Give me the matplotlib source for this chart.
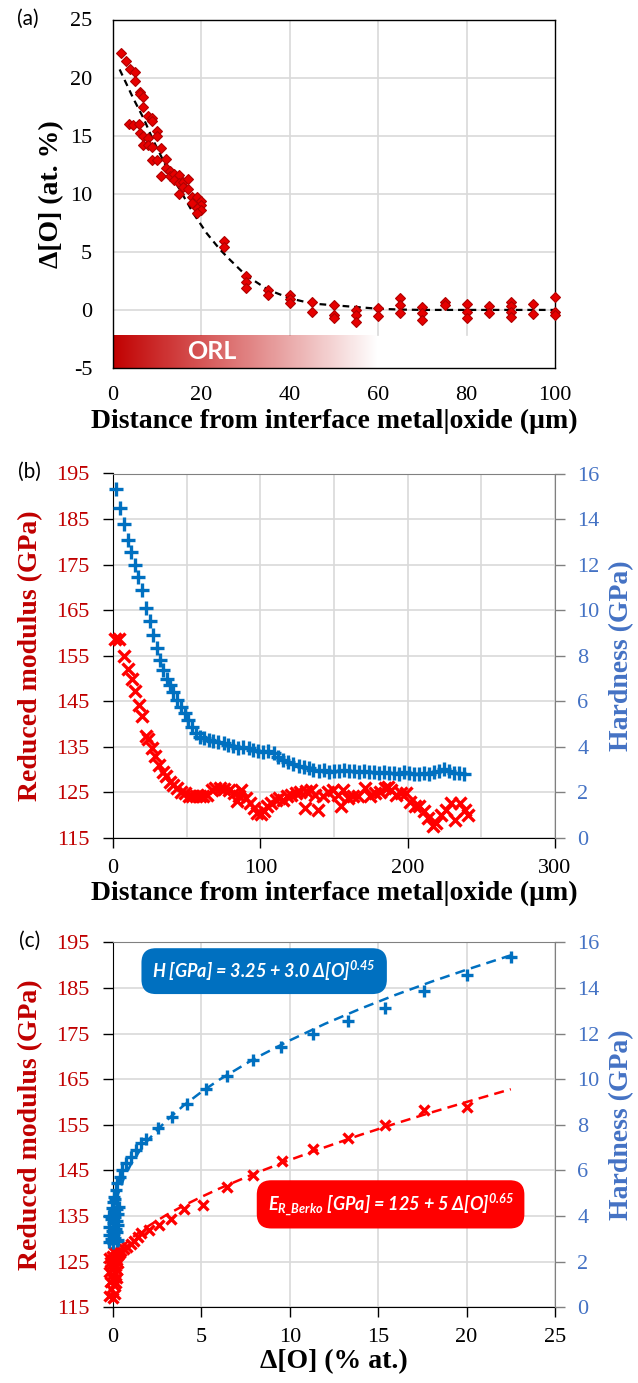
import numpy as np
import matplotlib
matplotlib.use("Agg")
import matplotlib.pyplot as plt

SERIF = 'Liberation Serif'
SANS = 'Lato'
plt.rcParams['font.family'] = [SERIF, 'DejaVu Serif']
plt.rcParams['axes.unicode_minus'] = False
plt.rcParams['mathtext.fontset'] = 'custom'
plt.rcParams['mathtext.rm'] = 'Lato:bold:italic'
plt.rcParams['mathtext.it'] = 'Lato:bold:italic'
plt.rcParams['mathtext.bf'] = 'Lato:bold:italic'

# ---------------- data: panel (a) ----------------
dist_a = [1.9, 2.9, 3.8, 4.9, 4.9, 6.0, 6.0, 6.9, 6.9, 7.9, 8.8, 8.8, 3.7, 4.6, 5.8,
          6.0, 6.9, 7.9, 9.9, 9.9, 6.9, 7.9, 8.8, 10.9, 8.8, 9.9, 11.9, 10.9, 11.9,
          12.9, 12.9, 13.8, 14.9, 13.8, 14.9, 15.9, 17.0, 14.9, 15.9, 17.0, 17.8,
          18.9, 20.0, 20.0, 18.9, 20.0, 17.8, 18.9, 25, 25, 30, 30, 30, 35, 35, 40,
          40, 40, 45, 45, 50, 50, 50, 55, 55, 55, 60, 60, 65, 65, 65, 70, 70, 70,
          75, 75, 80, 80, 80, 85, 85, 90, 90, 90, 90, 95, 95, 100, 100, 100]
dO_a = [22.1, 21.4, 20.7, 20.5, 19.7, 18.8, 18.6, 18.3, 17.5, 16.7, 16.5, 16.3, 16.0,
        15.9, 16.0, 15.2, 15.0, 14.8, 15.4, 15.0, 14.2, 14.2, 14.0, 13.9, 12.9, 12.9,
        13.0, 11.5, 12.2, 12.0, 11.5, 11.7, 11.6, 11.2, 10.9, 11.0, 11.3, 10.0, 10.6,
        10.4, 9.7, 9.7, 9.4, 9.0, 8.8, 8.6, 9.2, 8.3, 5.9, 5.4, 2.9, 2.4, 1.9, 1.7,
        1.3, 1.3, 0.9, 0.6, 0.7, -0.2, 0.4, -0.4, -0.7, 0.0, -0.4, -1.0, 0.2, -0.5,
        1.0, 0.4, -0.25, 0.25, -0.3, -0.9, 0.7, 0.4, 0.5, -0.15, -0.7, 0.3, -0.3,
        0.7, 0.35, -0.15, -0.65, 0.55, -0.35, 1.1, -0.15, -0.45]
fit_dist_a = [1.5, 4.6, 6.9, 9.1, 12.1, 15.2, 18.2, 21.2, 24.2, 26.5, 30, 35, 40, 45,
              50, 55, 60, 65, 70, 80, 90, 100]
fit_dO_a = [20.7, 18.2, 16.5, 14.6, 12.3, 10.3, 8.3, 6.6, 5.2, 4.3, 3.0, 1.75, 1.0,
            0.55, 0.4, 0.25, 0.1, 0.03, 0.0, 0.0, 0.0, 0.0]

# ---------------- data: panel (b) ----------------
dist_H = [2, 5, 7.5, 10, 12.5, 15, 17.3, 19.7, 22.4, 24.8, 27, 29.6, 32, 34.2, 36.5,
          38.8, 41, 43.6, 46.3, 48.8, 51.1, 53.5, 56.5, 59, 62, 65, 68, 71.5, 75,
          78.3, 81.7, 85, 88.5, 92, 95.3, 98.7, 102, 105.5, 109, 112.3, 115.7, 119,
          122.5, 126, 129.3, 132.7, 136, 139.5, 143, 146.4, 150, 153.3, 156.7, 160,
          163.5, 167, 170.4, 173.8, 177.2, 180.6, 184, 187.4, 190.8, 194.2, 197.6,
          201, 204.4, 207.8, 211.2, 214.6, 218, 221.4, 224.8, 228.2, 231.6, 235, 238.5]
hardness_b = [15.33, 14.5, 13.8, 13.07, 12.55, 11.98, 11.44, 10.88, 10.1, 9.53, 8.9,
              8.33, 7.81, 7.37, 7.0, 6.72, 6.43, 6.06, 5.77, 5.47, 5.18, 4.88, 4.59,
              4.45, 4.38, 4.30, 4.25, 4.23, 4.16, 4.09, 4.02, 3.97, 4.01, 3.94, 3.86,
              3.80, 3.76, 3.80, 3.72, 3.57, 3.43, 3.35, 3.25, 3.17, 3.10, 3.06, 2.99,
              2.93, 2.97, 2.90, 2.95, 2.93, 2.97, 2.92, 2.95, 2.90, 2.96, 2.88, 2.91,
              2.86, 2.88, 2.84, 2.87, 2.83, 2.88, 2.85, 2.80, 2.83, 2.86, 2.82, 2.90,
              2.93, 3.02, 2.95, 2.86, 2.84, 2.81]
dist_E = [1.6, 4.3, 7.5, 10, 12.7, 15, 17.5, 20, 22.3, 24, 26.4, 28.6, 31, 33.6, 35.9,
          38.4, 41, 43.4, 46, 48.6, 51.4, 53.6, 56, 58.9, 61, 63.9, 67, 69.5, 72.5,
          75.2, 78.6, 82, 84, 85.5, 86.6, 90, 93, 95.7, 98, 100.2, 102.5, 104.8,
          107.5, 110.5, 112.7, 115.7, 118.4, 120.7, 124, 126.8, 130, 131, 134.6,
          136.9, 139.2, 142.6, 146, 149.3, 152.7, 155, 156, 159.5, 163, 166.3, 170.8,
          174.2, 177.6, 181, 184.4, 186.7, 189, 192.4, 195.7, 198.6, 201.4, 204.8,
          208, 211.4, 213.7, 217.2, 219.5, 222.9, 226.2, 229.6, 231.9, 235.3, 238.7, 241]
modulus_b = [158.7, 158.6, 154.9, 152.0, 149.8, 147.2, 144.3, 141.7, 137.3, 136.8,
             134.8, 132.9, 131.1, 129.4, 128.5, 127.4, 126.7, 126.0, 125.2, 124.9,
             124.3, 124.2, 124.2, 124.2, 124.3, 124.5, 125.5, 126.0, 126.0, 125.8,
             125.6, 124.9, 123.2, 124.2, 125.6, 123.8, 122.7, 121.6, 120.5, 120.3,
             120.9, 122.0, 122.7, 123.4, 123.8, 123.4, 124.2, 124.5, 124.9, 125.2,
             121.6, 125.4, 125.6, 124.5, 121.2, 124.2, 125.2, 125.6, 124.5, 122.0,
             125.6, 123.8, 124.2, 124.2, 126.0, 124.2, 124.9, 125.2, 126.0, 126.3,
             125.6, 124.5, 124.9, 124.9, 123.0, 122.0, 122.0, 120.9, 119.4, 117.6,
             118.3, 120.1, 121.2, 122.7, 119.0, 122.7, 121.2, 120.1]

# ---------------- data: panel (c) ----------------
dO_H = [-0.2, 0.0, 0.2, -0.1, 0.1, 0.3, -0.25, 0.05, 0.25, -0.05, 0.15, -0.2, 0.3, 0.0,
        0.2, -0.1, 0.1, -0.25, 0.3, 0.05, 0.2, -0.05, 0.35, 0.0, 0.1,
        0.06, 0.15, 0.25, 0.38, 0.53, 0.72, 1.0, 1.28, 1.57, 1.89, 2.57, 3.36, 4.2,
        5.25, 6.47, 7.9, 9.5, 11.3, 13.3, 15.4, 17.6, 20.0, 22.5]
hardness_c = [2.85, 2.8, 2.9, 3.0, 3.05, 2.95, 3.15, 3.2, 3.3, 3.35, 3.45, 3.5, 3.6,
              3.7, 3.8, 3.85, 3.95, 4.0, 4.1, 4.2, 4.3, 4.35, 4.4, 4.6, 4.75,
              4.85, 5.15, 5.44, 5.73, 6.02, 6.32, 6.6, 6.9, 7.19, 7.37, 7.85, 8.36,
              8.92, 9.58, 10.16, 10.85, 11.4, 12.0, 12.53, 13.1, 13.85, 14.55, 15.34]
dO_E = [-0.2, 0.0, 0.1, -0.1, 0.05, 0.15, -0.15, 0.0, 0.2, -0.05, 0.1, -0.2, 0.25, 0.0,
        0.15, -0.1, 0.05, 0.3, -0.15, 0.2, 0.0, 0.1, -0.05, 0.3, 0.15, -0.2, 0.4, 0.05,
        0.3, 0.45, 0.62, 0.8, 1.0, 1.2, 1.4, 1.57, 2.03, 2.6, 3.26, 4.0, 5.1, 6.47,
        7.9, 9.55, 11.3, 13.3, 15.4, 17.6, 20.0]
modulus_c = [117.5, 117.0, 118.0, 119.0, 119.8, 120.3, 120.5, 121.2, 121.5, 122.0,
             122.5, 122.8, 123.2, 123.6, 124.0, 124.2, 124.5, 124.8, 125.0, 125.3,
             125.6, 126.0, 126.3, 126.5, 126.8, 125.8, 127.0, 127.2,
             126.8, 127.3, 127.8, 128.3, 128.9, 129.6, 130.4, 131.2, 132.0, 133.0,
             134.4, 136.5, 137.4, 141.4, 144.0, 147.1, 149.6, 152.0, 155.0, 158.2, 158.8]
fit_dO_c = [0, 0.02, 0.05, 0.1, 0.3, 0.6, 1, 1.5, 2, 3, 4, 5, 6, 8, 10, 12, 14, 16,
            18, 20, 22.5]
fit_H_c = [3.25, 3.77, 4.03, 4.31, 4.99, 5.63, 6.25, 6.85, 7.35, 8.17, 8.85, 9.44,
           9.97, 10.90, 11.70, 12.43, 13.09, 13.70, 14.27, 14.80, 15.43]
fit_E_c = [125.0, 125.4, 125.7, 126.1, 127.3, 128.6, 130.0, 131.5, 132.8, 135.2,
           137.3, 139.2, 141.0, 144.3, 147.3, 150.1, 152.8, 155.3, 157.7, 160.0, 162.8]

xticks_a = [0, 20, 40, 60, 80, 100]
yticks_a = [-5, 0, 5, 10, 15, 20, 25]
xticks_b = [0, 100, 200, 300]
xticks_c = [0, 5, 10, 15, 20, 25]
yticks_E = [115, 125, 135, 145, 155, 165, 175, 185, 195]
yticks_H = [0, 2, 4, 6, 8, 10, 12, 14, 16]

# ---------------- style ----------------
RED_LBL = '#C00000'
BLUE_LBL = '#4472C4'
RED_M = '#FF0000'
BLUE_M = '#0070C0'
GRID = '#D9D9D9'
TICK_FS = 16
LBL_FS = 20

fig = plt.figure(figsize=(6.38, 13.83), dpi=100)
W, H = 638.0, 1383.0


def axrect(l, r, t, b):
    return [l / W, 1 - b / H, (r - l) / W, (b - t) / H]


# ================= panel (a) =================
ax = fig.add_axes(axrect(113, 555, 19.5, 368))
ax.set_xlim(0, 100)
ax.set_ylim(-5, 25)
ax.set_xticks(xticks_a)
ax.set_yticks(yticks_a)
ax.tick_params(length=0, labelsize=TICK_FS)
ax.tick_params(axis='x', pad=13)
ax.tick_params(axis='y', pad=15)
for x in xticks_a[1:-1]:
    ax.plot([x, x], [-2.2, 25], color=GRID, lw=1.2, zorder=0)
for y in yticks_a[1:-1]:
    ax.axhline(y, color=GRID, lw=1.2, zorder=0)
for s in ax.spines.values():
    s.set_color('black')
    s.set_linewidth(1.0)
# ORL gradient bar
grad = np.zeros((2, 256, 4))
grad[..., 0] = 0.76
grad[..., 3] = np.linspace(1, 0, 256)[None, :]
ax.imshow(grad, extent=[0, 60, -5, -2.2], aspect='auto', zorder=1,
          interpolation='bilinear')
ax.text(22.4, -3.6, 'ORL', color='white', fontsize=18, fontweight='bold',
        family=SANS, ha='center', va='center', zorder=2)
ax.plot(fit_dist_a, fit_dO_a, color='black', lw=1.6, ls=(0, (3, 2.2)), zorder=3)
ax.plot(dist_a, dO_a, ls='none', marker='D', ms=5.5, mfc='#E60000', mec='#B00000',
        mew=0.8, zorder=4, clip_on=False)
ax.set_xlabel('Distance from interface metal|oxide (µm)', fontsize=LBL_FS,
              fontweight='bold', va='center')
ax.xaxis.set_label_coords(0.5, (368 - 421) / 348.5)
ax.set_ylabel('Δ[O] (at. %)', fontsize=LBL_FS, fontweight='bold', va='center')
ax.yaxis.set_label_coords((52 - 113) / 442, 0.5)
fig.text(28 / W, 1 - 19 / H, '(a)', fontsize=15, family=SANS, ha='center',
         va='center')


def dual_axes(rect):
    ax = fig.add_axes(rect)
    ax2 = ax.twinx()
    ax.set_ylim(115, 195)
    ax.set_yticks(yticks_E)
    ax2.set_ylim(0, 16)
    ax2.set_yticks(yticks_H)
    ax.tick_params(axis='y', direction='out', length=7, width=1, color='black',
                   labelcolor=RED_LBL, labelsize=TICK_FS, pad=10)
    ax.tick_params(axis='x', which='major', direction='out', length=7, width=1,
                   color='black', labelsize=TICK_FS, pad=8)
    ax.tick_params(axis='x', which='minor', length=0)
    ax2.tick_params(axis='y', direction='out', length=7, width=1, color='#808080',
                    labelcolor=BLUE_LBL, labelsize=TICK_FS, pad=9)
    ax.grid(True, which='both', color=GRID, lw=1.2)
    ax.set_axisbelow(True)
    ax.spines['left'].set_color('black')
    ax.spines['bottom'].set_color('black')
    ax.spines['top'].set_visible(False)
    ax.spines['right'].set_visible(False)
    ax2.spines['left'].set_visible(False)
    ax2.spines['bottom'].set_visible(False)
    ax2.spines['top'].set_color('#808080')
    ax2.spines['right'].set_color('#808080')
    ax.set_ylabel('Reduced modulus (GPa)', fontsize=LBL_FS, fontweight='bold',
                  color=RED_LBL, va='center')
    ax.yaxis.set_label_coords((31 - 113) / 442, 0.5)
    ax2.set_ylabel('Hardness (GPa)', fontsize=LBL_FS, fontweight='bold',
                   color=BLUE_LBL, va='center', rotation=90)
    ax2.yaxis.set_label_coords((622 - 113) / 442, 0.5)
    return ax, ax2


# ================= panel (b) =================
axb, axb2 = dual_axes(axrect(113, 555, 473.5, 838))
axb.set_xlim(0, 300)
axb.set_xticks(xticks_b)
axb.set_xticks([50, 150, 250], minor=True)
axb.plot(dist_E, modulus_b, ls='none', marker='x', ms=8, mew=2.4, color=RED_M,
         clip_on=False, zorder=3)
axb2.plot(dist_H, hardness_b, ls='none', marker='+', ms=9.5, mew=2.4, color=BLUE_M,
          clip_on=False, zorder=3)
axb.set_xlabel('Distance from interface metal|oxide (µm)', fontsize=LBL_FS,
               fontweight='bold', va='center')
axb.xaxis.set_label_coords(0.5, (838 - 893) / 364.5)
fig.text(29 / W, 1 - 472 / H, '(b)', fontsize=15, family=SANS, ha='center',
         va='center')

# ================= panel (c) =================
axc, axc2 = dual_axes(axrect(113, 555, 942.3, 1307.3))
axc.set_xlim(0, 25)
axc.set_xticks(xticks_c)
axc.plot(fit_dO_c, fit_E_c, color=RED_M, lw=1.8, ls=(0, (4, 2.5)), zorder=2)
axc.plot(dO_E, modulus_c, ls='none', marker='x', ms=7.5, mew=2.4, color=RED_M,
         clip_on=False, zorder=3)
axc2.plot(fit_dO_c, fit_H_c, color=BLUE_M, lw=1.8, ls=(0, (4, 2.5)), zorder=2)
axc2.plot(dO_H, hardness_c, ls='none', marker='+', ms=9, mew=2.4, color=BLUE_M,
          clip_on=False, zorder=3)
axc.set_xlabel('Δ[O] (% at.)', fontsize=LBL_FS, fontweight='bold', va='center')
axc.xaxis.set_label_coords(0.5, (1307.3 - 1362) / 365)
fig.text(30 / W, 1 - 941 / H, '(c)', fontsize=15, family=SANS, ha='center',
         va='center')

axc2.text(0.342, 0.921, 'H [GPa] = 3.25 + 3.0 Δ[O]$^{0.45}$', transform=axc2.transAxes,
          ha='center', va='center', fontsize=13, color='white', family=SANS,
          fontweight='bold', fontstyle='italic', zorder=6,
          bbox=dict(boxstyle='round,pad=0.6,rounding_size=0.8', fc=BLUE_M,
                    ec='none'))
axc2.text(0.628, 0.282, r'E$_{R\_Berko}$ [GPa] = 125 + 5 Δ[O]$^{0.65}$',
          transform=axc2.transAxes, ha='center', va='center', fontsize=13,
          color='white', family=SANS, fontweight='bold', fontstyle='italic',
          zorder=6,
          bbox=dict(boxstyle='round,pad=0.6,rounding_size=0.8', fc=RED_M,
                    ec='none'))

fig.savefig('out.png', dpi=100)
